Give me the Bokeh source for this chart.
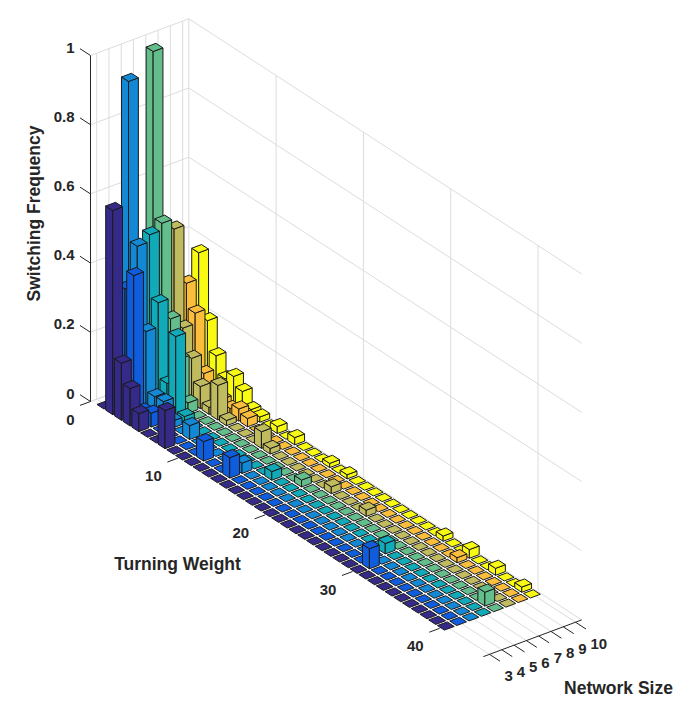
import math
from bokeh.plotting import figure
from bokeh.models import Range1d
from bokeh.embed import file_html
from bokeh.resources import INLINE
from bokeh.core.properties import value

# ---------------- data ----------------
turning_weight = [1, 2, 3, 4, 5, 6, 7, 8, 9, 10, 11, 12, 13, 14, 15, 16, 17, 18, 19, 20,
                  21, 22, 23, 24, 25, 26, 27, 28, 29, 30, 31, 32, 33, 34, 35, 36, 37, 38, 39, 40]
network_size = [3, 4, 5, 6, 7, 8, 9, 10]

sf_3 = [0, 0.59, 0.165, 0.108, 0.052, 0, 0, 0.11, 0, 0, 0, 0, 0, 0, 0, 0, 0, 0, 0, 0,
        0, 0, 0, 0, 0, 0, 0, 0, 0, 0, 0, 0, 0, 0, 0, 0, 0, 0, 0, 0]
sf_4 = [0.30, 0.35, 0.405, 0.03, 0.04, 0, 0, 0, 0, 0, 0.056, 0, 0, 0.059, 0, 0, 0, 0, 0, 0,
        0, 0, 0, 0, 0, 0, 0, 0, 0, 0.058, 0, 0, 0, 0, 0, 0, 0, 0, 0, 0]
sf_5 = [0.92, 0.46, 0.23, 0.058, 0.06, 0.02, 0, 0.04, 0, 0, 0, 0, 0, 0.03, 0, 0, 0, 0, 0, 0,
        0, 0, 0, 0, 0, 0, 0, 0, 0, 0, 0, 0, 0, 0, 0, 0, 0, 0, 0, 0]
sf_6 = [0.30, 0.48, 0.30, 0.083, 0.235, 0.02, 0, 0, 0, 0, 0, 0, 0, 0, 0, 0.025, 0, 0, 0, 0,
        0, 0, 0, 0, 0, 0, 0, 0, 0.03, 0, 0, 0, 0, 0, 0, 0, 0, 0, 0, 0]
sf_7 = [0.98, 0.50, 0.24, 0.14, 0.03, 0, 0, 0, 0, 0, 0, 0, 0, 0, 0, 0, 0, 0.02, 0, 0,
        0, 0, 0, 0, 0, 0, 0, 0, 0, 0, 0, 0, 0, 0, 0, 0, 0, 0, 0.04, 0]
sf_8 = [0, 0.47, 0.20, 0.129, 0.064, 0.02, 0.10, 0.015, 0, 0, 0, 0.048, 0.016, 0, 0, 0, 0, 0, 0, 0.02,
        0, 0, 0, 0.018, 0, 0, 0, 0, 0, 0, 0, 0, 0, 0, 0, 0, 0, 0, 0, 0]
sf_9 = [0, 0.30, 0.23, 0.072, 0.04, 0.03, 0.02, 0.035, 0.024, 0, 0, 0, 0, 0, 0, 0, 0, 0, 0, 0,
        0, 0, 0, 0, 0, 0, 0, 0, 0, 0, 0, 0, 0.015, 0, 0, 0, 0, 0, 0, 0]
sf_10 = [0, 0.375, 0.195, 0.11, 0.06, 0.083, 0.056, 0.02, 0.015, 0, 0.02, 0, 0.021, 0, 0, 0, 0.012, 0, 0.012, 0,
         0, 0, 0, 0, 0, 0, 0, 0, 0, 0.015, 0, 0, 0.025, 0, 0, 0.02, 0, 0, 0.015, 0]

series = [sf_3, sf_4, sf_5, sf_6, sf_7, sf_8, sf_9, sf_10]
colors = ["#352a87", "#0f5ddd", "#1389d6", "#11aab9", "#64be8c", "#bfbb5e", "#fbbe3c", "#f9fa14"]

tw_ticks = [0, 10, 20, 30, 40]
tw_labels = ["0", "10", "20", "30", "40"]
z_ticks = [0, 0.2, 0.4, 0.6, 0.8, 1]
z_labels = ["0", "0.2", "0.4", "0.6", "0.8", "1"]
ns_labels = ["3", "4", "5", "6", "7", "8", "9", "10"]

# ---------------- projection (orthographic view) ----------------
TW_MIN, TW_MAX = 0, 45
NS_MIN, NS_MAX = 2.5, 10.5
Z_MIN, Z_MAX = 0, 1
X0, Y0 = 90.0, 401.0           # screen position of (TW_MIN, NS_MIN, 0)
UX, UY = 8.73, 5.67            # per turning-weight unit
VX, VY = 12.29, -4.59          # per network-size unit
WZ = 346.0                     # per frequency unit
PAGE_H = 710


def proj(t, n, z):
    x = X0 + UX * (t - TW_MIN) + VX * (n - NS_MIN)
    y = Y0 + UY * (t - TW_MIN) + VY * (n - NS_MIN) - WZ * z
    return x, PAGE_H - y


W, H = 688, 706
p = figure(width=W, height=H, x_range=Range1d(0, W), y_range=Range1d(PAGE_H - H, PAGE_H),
           output_backend="svg", toolbar_location=None, min_border=0)
p.axis.visible = False
p.grid.visible = False
p.outline_line_color = None
p.background_fill_color = "white"
p.border_fill_color = "white"

GRID = "#dcdcdc"
AX = "#262626"
FONT = value("Liberation Sans")

# ---------------- grid lines ----------------
gx, gy = [], []


def seg(a, b):
    xa, ya = proj(*a)
    xb, yb = proj(*b)
    gx.append([xa, xb])
    gy.append([ya, yb])


# back-left wall (TW = min)
for n in network_size:
    seg((TW_MIN, n, Z_MIN), (TW_MIN, n, Z_MAX))
for z in z_ticks:
    seg((TW_MIN, NS_MIN, z), (TW_MIN, NS_MAX, z))
# back-right wall (NS = max)
for t in tw_ticks:
    seg((t, NS_MAX, Z_MIN), (t, NS_MAX, Z_MAX))
for z in z_ticks:
    seg((TW_MIN, NS_MAX, z), (TW_MAX, NS_MAX, z))
# floor
for t in tw_ticks:
    seg((t, NS_MIN, 0), (t, NS_MAX, 0))
for n in network_size:
    seg((TW_MIN, n, 0), (TW_MAX, n, 0))
p.multi_line(gx, gy, line_color=GRID, line_width=1)

# ---------------- bars (painter's order: back to front) ----------------
HW = 0.4
order = []
for ti, t in enumerate(turning_weight):
    for ni in range(len(network_size) - 1, -1, -1):
        order.append((ti, ni))

px, py, pc = [], [], []


def face(pts, c):
    xs, ys = [], []
    for q in pts:
        x, y = proj(*q)
        xs.append(x)
        ys.append(y)
    px.append(xs)
    py.append(ys)
    pc.append(c)


for ti, ni in order:
    t = turning_weight[ti]
    n = network_size[ni]
    z = series[ni][ti]
    c = colors[ni]
    if z > 0:
        face([(t - HW, n - HW, 0), (t + HW, n - HW, 0), (t + HW, n - HW, z), (t - HW, n - HW, z)], c)
        face([(t + HW, n - HW, 0), (t + HW, n + HW, 0), (t + HW, n + HW, z), (t + HW, n - HW, z)], c)
    face([(t - HW, n - HW, z), (t + HW, n - HW, z), (t + HW, n + HW, z), (t - HW, n + HW, z)], c)

p.patches(px, py, fill_color=pc, line_color="#1a1a1a", line_width=1.0)

# ---------------- axes ----------------
ax_x, ax_y = [], []


def aseg(a, b):
    xa, ya = proj(*a)
    xb, yb = proj(*b)
    ax_x.append([xa, xb])
    ax_y.append([ya, yb])


# z axis (front-left vertical edge)
aseg((TW_MIN, NS_MIN, Z_MIN), (TW_MIN, NS_MIN, Z_MAX))
for z in z_ticks:
    aseg((TW_MIN, NS_MIN, z), (TW_MIN - 1.2, NS_MIN, z))
# turning-weight ticks
for t in tw_ticks:
    aseg((t, NS_MIN, 0), (t, NS_MIN - 0.85, 0))
# network-size axis (front edge)
aseg((TW_MAX, NS_MIN, 0), (TW_MAX, NS_MAX, 0))
for n in network_size:
    aseg((TW_MAX, n, 0), (TW_MAX + 1.2, n, 0))
p.multi_line(ax_x, ax_y, line_color=AX, line_width=1)

# tick labels
zx, zy = [], []
for z in z_ticks:
    x, y = proj(TW_MIN, NS_MIN, z)
    zx.append(x - 16)
    zy.append(y + 8)
p.text(zx, zy, text=z_labels, text_font=FONT, text_font_style="bold", text_font_size="15px",
       text_align="right", text_baseline="middle", text_color=AX)

tx, ty = [], []
for t in tw_ticks:
    x, y = proj(t, NS_MIN, 0)
    tx.append(x - 16)
    ty.append(y - 18)
p.text(tx, ty, text=tw_labels, text_font=FONT, text_font_style="bold", text_font_size="15px",
       text_align="right", text_baseline="middle", text_color=AX)

nx, ny = [], []
for n in network_size:
    x, y = proj(TW_MAX, n, 0)
    nx.append(x + 15)
    ny.append(y - 22)
p.text(nx, ny, text=ns_labels, text_font=FONT, text_font_style="bold", text_font_size="15px",
       text_align="left", text_baseline="middle", text_color=AX)

# axis titles
p.text([177], [PAGE_H - 563], text=["Turning Weight"], text_font=FONT, text_font_style="bold",
       text_font_size="17.5px", text_align="center", text_baseline="middle", text_color=AX)
p.text([618], [PAGE_H - 687], text=["Network Size"], text_font=FONT, text_font_style="bold",
       text_font_size="17.5px", text_align="center", text_baseline="middle", text_color=AX)
p.text([33], [PAGE_H - 213], text=["Switching Frequency"], text_font=FONT, text_font_style="bold",
       text_font_size="17.5px", text_align="center", text_baseline="middle", text_color=AX,
       angle=math.pi / 2)

open("out.html", "w").write(file_html(p, INLINE))
